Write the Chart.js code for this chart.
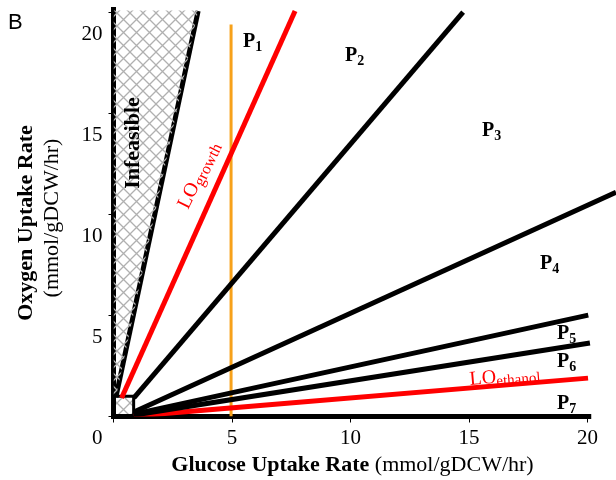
<!DOCTYPE html>
<html><head><meta charset="utf-8">
<script src="https://cdn.jsdelivr.net/npm/chart.js@4/dist/chart.umd.min.js"></script>
<style>html,body{margin:0;padding:0;background:#fff}#wrap{width:616px;height:480px;position:relative}</style>
</head><body><div id="wrap"><canvas id="c" width="616" height="480"></canvas></div>
<script>
// Tick values
const xTicks = [0, 5, 10, 15, 20];
const yTicks = [0, 5, 10, 15, 20];
// Phase boundary lines (glucose uptake, oxygen uptake)
const infeasibleBoundary = [{x:0.10,y:0.95},{x:3.57,y:20.07}];
const loGrowth          = [{x:0.34,y:0.92},{x:7.66,y:20.07}];
const p2p3Boundary      = [{x:0.86,y:0.92},{x:14.75,y:20.02}];
const p3p4Boundary      = [{x:0.86,y:0.22},{x:21.2,y:11.1}];
const p4p5Boundary      = [{x:0.86,y:0.12},{x:20.03,y:5.02}];
const p5p6Boundary      = [{x:0.86,y:0.07},{x:20.1,y:3.64}];
const loEthanol         = [{x:0.86,y:0.02},{x:20.02,y:1.90}];
const p7Boundary        = [{x:0,y:0},{x:20.05,y:0}];
const oxygenAxisLine    = [{x:0,y:0},{x:0,y:20.15}];
const glucoseFixed      = [{x:4.96,y:0},{x:4.96,y:19.4}];
const infeasibleRegion  = [{x:0,y:0.95},{x:0,y:20.1},{x:3.57,y:20.1},{x:0.10,y:0.95}];
const cornerBox         = [{x:0,y:0},{x:0.85,y:0},{x:0.85,y:1.0},{x:0,y:1.0},{x:0,y:0}];

function makePattern(ctx){
  const s = 13;
  const c = document.createElement('canvas'); c.width = s; c.height = s;
  const g = c.getContext('2d');
  g.strokeStyle = '#b0b0b0'; g.lineWidth = 1.3;
  g.beginPath(); g.moveTo(0,0); g.lineTo(s,s); g.moveTo(s,0); g.lineTo(0,s); g.stroke();
  return ctx.createPattern(c, 'repeat');
}

const canvas = document.getElementById('c');
const ctx = canvas.getContext('2d');
const hatch = makePattern(ctx);

function line(data, color, width, extra){
  return Object.assign({data, showLine:true, borderColor:color, borderWidth:width, pointRadius:0, fill:false, borderCapStyle:'butt'}, extra||{});
}

const SERIF = '"Liberation Serif", "Times New Roman", serif';

function subText(c, main, sub, x, y, mf, sf, drop){
  c.font = mf; c.fillText(main, x, y);
  const w = c.measureText(main).width;
  c.font = sf; c.fillText(sub, x + w, y + drop);
}

const textPlugin = {
  id: 'texts',
  afterDraw(chart){
    const c = chart.ctx;
    c.save();
    c.fillStyle = '#000';
    c.textBaseline = 'alphabetic'; c.textAlign = 'left';
    c.font = '22px "Liberation Sans", Arial, sans-serif';
    c.fillText('B', 8, 29);
    const pf = 'bold 20px ' + SERIF, sf = 'bold 14px ' + SERIF;
    subText(c, 'P', '1', 243, 47, pf, sf, 4);
    subText(c, 'P', '2', 345, 61, pf, sf, 4);
    subText(c, 'P', '3', 482, 136, pf, sf, 4);
    subText(c, 'P', '4', 540, 269, pf, sf, 4);
    subText(c, 'P', '5', 557, 339, pf, sf, 4);
    subText(c, 'P', '6', 557, 367, pf, sf, 4);
    subText(c, 'P', '7', 557, 409, pf, sf, 4);
    c.save();
    c.translate(133, 143); c.rotate(-Math.PI/2);
    c.font = 'bold 22px ' + SERIF; c.textAlign = 'center'; c.textBaseline = 'middle';
    c.fillText('Infeasible', 0, 0);
    c.restore();
    c.save();
    c.fillStyle = '#ff0000';
    c.translate(188, 210); c.rotate(-64*Math.PI/180);
    subText(c, 'LO', 'growth', 0, 0, '20px ' + SERIF, '16px ' + SERIF, 3);
    c.restore();
    c.save();
    c.fillStyle = '#ff0000';
    c.translate(470, 385); c.rotate(-4.9*Math.PI/180);
    subText(c, 'LO', 'ethanol', 0, 0, '20px ' + SERIF, '15px ' + SERIF, 3);
    c.restore();
    c.textBaseline = 'middle';
    const b1 = 'Glucose Uptake Rate', n1 = ' (mmol/gDCW/hr)';
    c.font = 'bold 22px ' + SERIF; const w1 = c.measureText(b1).width;
    c.font = '22px ' + SERIF; const w2 = c.measureText(n1).width;
    let x0 = 352.5 - (w1 + w2)/2;
    c.font = 'bold 22px ' + SERIF; c.fillText(b1, x0, 465);
    c.font = '22px ' + SERIF; c.fillText(n1, x0 + w1, 465);
    c.save();
    c.translate(26, 223); c.rotate(-Math.PI/2);
    c.textAlign = 'center';
    c.font = 'bold 22px ' + SERIF; c.fillText('Oxygen Uptake Rate', 0, 0);
    c.restore();
    c.save();
    c.translate(52, 218); c.rotate(-Math.PI/2);
    c.textAlign = 'center';
    c.font = '22px ' + SERIF; c.fillText('(mmol/gDCW/hr)', 0, 0);
    c.restore();
    c.restore();
  }
};

new Chart(ctx, {
  type: 'scatter',
  data: { datasets: [
    Object.assign(line(infeasibleRegion, 'rgba(0,0,0,0)', 0), {fill:'shape', backgroundColor: hatch}),
    line(infeasibleBoundary, '#000', 5),
    line(loGrowth, '#ff0000', 5),
    line(p2p3Boundary, '#000', 5),
    line(p3p4Boundary, '#000', 5),
    line(p4p5Boundary, '#000', 5),
    line(p5p6Boundary, '#000', 5),
    line(loEthanol, '#ff0000', 5),
    line(glucoseFixed, '#f7a11a', 3),
    line(p7Boundary, '#000', 5, {borderCapStyle:'square', clip:false}),
    line(oxygenAxisLine, '#000', 5, {borderCapStyle:'square', clip:false}),
    Object.assign(line(cornerBox, '#000', 3), {fill:'shape', backgroundColor: hatch, borderJoinStyle:'miter', clip:false})
  ]},
  options: {
    responsive: false, animation: false,
    layout: { padding: { top: 6.44, right: 0, left: 0, bottom: 0 } },
    plugins: { legend: { display: false }, tooltip: { enabled: false } },
    scales: {
      x: {
        type: 'linear', min: 0, max: 21.2,
        afterFit(s){ s.height = 63.5; s.paddingLeft = 0; s.paddingRight = 0; },
        afterBuildTicks(s){ s.ticks = xTicks.map(v => ({value: v})); },
        grid: { display: true, drawOnChartArea: false, drawTicks: true, tickLength: 6, color: '#000', lineWidth: 1 },
        border: { display: false },
        ticks: { color: '#000', padding: 3, maxRotation: 0, autoSkip: false,
                 font: { family: SERIF, size: 21 },
                 callback: v => v === 0 ? '' : String(v) }
      },
      y: {
        type: 'linear', min: 0, max: 20.3,
        afterFit(s){ s.width = 113.5; s.paddingTop = 0; s.paddingBottom = 0; },
        afterBuildTicks(s){ s.ticks = yTicks.map(v => ({value: v})); },
        grid: { display: true, drawOnChartArea: false, drawTicks: true, tickLength: 5, color: '#000', lineWidth: 1 },
        border: { display: false },
        ticks: { color: '#000', padding: 6, labelOffset: 22, autoSkip: false,
                 font: { family: SERIF, size: 21 },
                 callback: v => String(v) }
      }
    }
  },
  plugins: [textPlugin]
});
</script></body></html>
